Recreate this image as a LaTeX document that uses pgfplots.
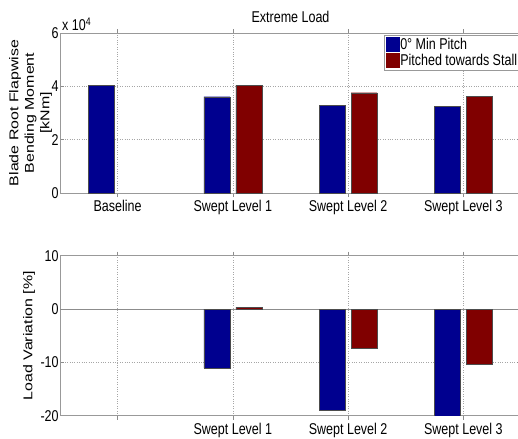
\documentclass[border=0pt]{standalone}
\usepackage{pgfplots}
\pgfplotsset{compat=1.18}
\usepackage{fontspec}
\setmainfont{Liberation Sans}
\definecolor{mblue}{rgb}{0,0,0.5625}
\definecolor{mred}{rgb}{0.5,0,0}
\newcommand{\tf}{\fontsize{15.7}{18}\selectfont}
\pgfplotsset{
  myaxis/.style={
    scale only axis, width=461bp, height=160bp,
    xmin=0.5, xmax=4.5, xtick={1,2,3,4},
    axis line style={black!40, line width=0.8bp},
    tick style={black!45, line width=0.6bp},
    major tick length=4bp, tick align=inside,
    grid=major, major grid style={black!35, dotted, line width=0.7bp},
    /pgf/number format/assume math mode=true,
    ticklabel style={font=\tf, xscale=0.8},
    yticklabel style={inner xsep=1.5bp},
    ybar=6bp, bar width=26bp,
    every axis title/.style={at={(rel axis cs:0.5,1)}, anchor=base, yshift=11bp, font=\tf, xscale=0.8},
  },
  bluebar/.style={fill=mblue, draw=black!70, line width=0.3bp,
    legend image code/.code={\fill[mblue] (0bp,-7bp) rectangle (13bp,7bp);}},
  redbar/.style={fill=mred, draw=black!70, line width=0.3bp,
    legend image code/.code={\fill[mred] (0bp,-7bp) rectangle (13bp,7bp);}},
}
\begin{document}
\begin{tikzpicture}
\useasboundingbox (0,0) rectangle (518bp,-439bp);
\begin{axis}[myaxis, at={(60bp,-193bp)}, anchor=south west,
  ymin=0, ymax=60000, ytick={0,20000,40000,60000},
  scaled y ticks=false, yticklabels={0,2,4,6},
  xticklabels={Baseline,Swept Level 1,Swept Level 2,Swept Level 3},
  title={Extreme Load},
  every axis y label/.style={at={(rel axis cs:0,0.5)}, xshift=-29.5bp, rotate=90, yscale=0.8, anchor=center, align=center, font=\fontsize{16}{19.5}\selectfont},
  ylabel={Blade Root Flapwise\\Bending Moment\\{[kNm]}},
  legend style={at={(rel axis cs:1,1)}, anchor=north east, xshift=-1bp, yshift=-2bp,
    draw=black!40, fill=white, font=\tf, nodes={xscale=0.8, inner sep=1.5bp},
    inner sep=1.5bp, row sep=0bp, cells={anchor=west}},
  extra description/.code={
    \node[anchor=south west, inner sep=0pt, xshift=2bp, yshift=2bp, font=\tf, xscale=0.8] at (rel axis cs:0,1) {x 10\textsuperscript{4}};
  },
]
\addplot[bluebar] coordinates {(1,40500) (2,36100) (3,32800) (4,32400)};
\addplot[redbar] coordinates {(2,40500) (3,37600) (4,36200)};
\legend{0° Min Pitch, Pitched towards Stall}
\end{axis}
\begin{axis}[myaxis, at={(60bp,-415.7bp)}, anchor=south west,
  ymin=-20, ymax=10, ytick={-20,-10,0,10},
  xticklabels={,Swept Level 1,Swept Level 2,Swept Level 3},
  every axis y label/.style={at={(rel axis cs:0,0.5)}, xshift=-31bp, rotate=90, yscale=0.8, anchor=center, font=\fontsize{16}{19.5}\selectfont},
  ylabel={Load Variation [\%]},
]
\draw[black!45, line width=0.8bp] (axis cs:0.5,0) -- (axis cs:4.5,0);
\addplot[bluebar] coordinates {(2,-11.1) (3,-18.9) (4,-20.2)};
\addplot[redbar] coordinates {(2,0.3) (3,-7.4) (4,-10.4)};
\end{axis}
\end{tikzpicture}
\end{document}
